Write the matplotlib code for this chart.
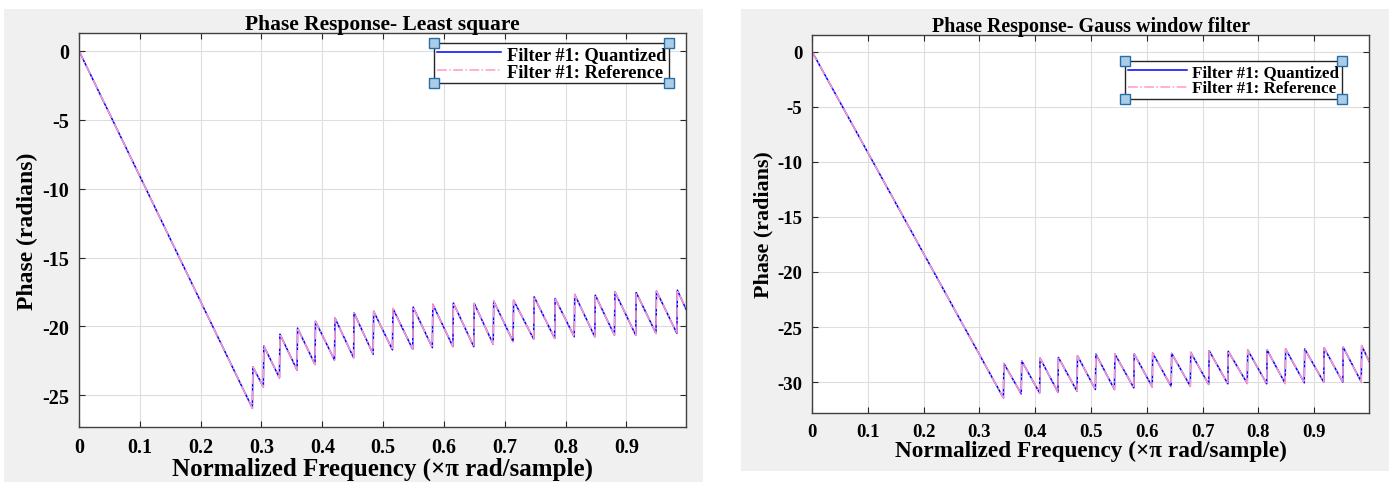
import matplotlib.pyplot as plt
import numpy as np
from matplotlib.lines import Line2D
from matplotlib.patches import Rectangle

plt.rcParams["font.family"] = ["Liberation Serif", "DejaVu Serif"]
plt.rcParams["font.weight"] = "bold"
plt.rcParams["axes.unicode_minus"] = False

# Least square filter: linear descent, then sawtooth (trough -> jump -> peak)
ls_trough_x = [0.285, 0.303, 0.3295, 0.3585, 0.388, 0.42, 0.4514, 0.4836, 0.5153, 0.5486, 0.5809, 0.6147,
               0.649, 0.681, 0.7137, 0.7475, 0.782, 0.8142, 0.848, 0.8803, 0.9153, 0.9486, 0.983]
ls_trough_y = [-25.93, -24.39, -23.73, -23.17, -22.76, -22.44, -22.27, -22.02, -21.7, -21.66, -21.54, -21.46,
               -21.47, -21.3, -21.1, -20.92, -20.87, -20.75, -20.75, -20.63, -20.63, -20.5, -20.5]
ls_peak_y = [-22.93, -21.41, -20.56, -20.12, -19.63, -19.39, -19.02, -18.9, -18.7, -18.6, -18.4, -18.3,
             -18.33, -18.16, -18.1, -17.85, -17.97, -17.68, -17.73, -17.49, -17.54, -17.44, -17.37]
ls_end = (0.998, -18.75)

# Gauss window filter
gw_trough_x = [0.343, 0.3749, 0.4078, 0.4407, 0.4749, 0.5078, 0.5419, 0.5766, 0.6096, 0.6436,
               0.6778, 0.7108, 0.745, 0.7799, 0.8147, 0.8478, 0.882, 0.9168, 0.951, 0.9841]
gw_trough_y = [-31.44, -31.07, -30.98, -30.92, -30.83, -30.67, -30.67, -30.52, -30.43, -30.4,
               -30.37, -30.21, -30.15, -30.12, -30.15, -30.12, -30.06, -30.0, -30.0, -29.97]
gw_peak_y = [-28.31, -28.07, -27.82, -27.76, -27.61, -27.45, -27.45, -27.45, -27.36, -27.39,
             -27.3, -27.15, -27.2, -27.09, -27.09, -26.99, -26.99, -26.9, -26.84, -26.69]
gw_end = (0.998, -28.1)

x_ticks = [0, 0.1, 0.2, 0.3, 0.4, 0.5, 0.6, 0.7, 0.8, 0.9]
x_tick_labels = ["0", "0.1", "0.2", "0.3", "0.4", "0.5", "0.6", "0.7", "0.8", "0.9"]

BLUE = "#0000ff"
PINK = "#ff99c8"
PANEL = "#f0f0f0"


def build_curve(trough_x, trough_y, peak_y, end):
    xs, ys = [0.0], [0.0]
    for tx, ty, py in zip(trough_x, trough_y, peak_y):
        xs += [tx, tx + 0.0008]
        ys += [ty, py]
    xs.append(end[0])
    ys.append(end[1])
    return np.array(xs), np.array(ys)


fig = plt.figure(figsize=(13.89, 4.85), dpi=100)
fig.patches.append(Rectangle((4 / 1389, 0.0041), 699 / 1389, 0.9753, transform=fig.transFigure,
                             facecolor=PANEL, edgecolor="none", zorder=-10))
fig.patches.append(Rectangle((741 / 1389, 0.0268), 648 / 1389, 0.9526, transform=fig.transFigure,
                             facecolor=PANEL, edgecolor="none", zorder=-10))

ax1 = fig.add_axes([0.0569, 0.1175, 0.437, 0.8124])
ax2 = fig.add_axes([0.5846, 0.1464, 0.401, 0.7794])

# (axes, curve, title, ylim, yticks, legend anchor, font scale)
panels = [
    (ax1, build_curve(ls_trough_x, ls_trough_y, ls_peak_y, ls_end), "Phase Response- Least square",
     (-27.3, 1.3), [0, -5, -10, -15, -20, -25], (0.972, 0.975), 1.0),
    (ax2, build_curve(gw_trough_x, gw_trough_y, gw_peak_y, gw_end), "Phase Response- Gauss window filter",
     (-32.8, 1.5), [0, -5, -10, -15, -20, -25, -30], (0.9515, 0.931), 0.93),
]

legends = []
for ax, (xs, ys), title, ylim, yticks, anchor, k in panels:
    ax.plot(xs, ys, color=BLUE, lw=1.1, label="Filter #1: Quantized")
    ax.plot(xs, ys, color=PINK, lw=1.1, ls="-.", label="Filter #1: Reference")
    ax.set_xlim(0, 0.998)
    ax.set_ylim(*ylim)
    ax.set_xticks(x_ticks)
    ax.set_xticklabels(x_tick_labels)
    ax.set_yticks(yticks)
    ax.grid(True, color="#dedede", lw=0.8)
    ax.set_axisbelow(True)
    ax.tick_params(direction="in", top=True, right=True, length=4, width=0.8,
                   labelsize=14.5 * k, color="#262626", pad=7)
    for s in ax.spines.values():
        s.set_color("#404040")
        s.set_linewidth(1.0)
    ax.set_title(title, fontsize=15.5 * k, fontweight="bold", pad=3)
    ax.set_xlabel("Normalized Frequency (\u00d7\u03c0 rad/sample)", fontsize=18 * k, fontweight="bold", labelpad=0)
    ax.set_ylabel("Phase (radians)", fontsize=17 * k, fontweight="bold", labelpad=3)
    leg = ax.legend(loc="upper right", bbox_to_anchor=anchor, borderaxespad=0,
                    prop={"weight": "bold", "size": 13.2 * k}, fancybox=False, framealpha=1,
                    edgecolor="#262626", handlelength=3.5, borderpad=0.15, labelspacing=0.05,
                    handletextpad=0.3)
    leg.get_frame().set_linewidth(1.0)
    legends.append(leg)

# edit-mode corner handles around each legend
fig.canvas.draw()
inv = fig.transFigure.inverted()
for leg in legends:
    bb = leg.get_frame().get_window_extent()
    (x0, y0), (x1, y1) = inv.transform([[bb.x0, bb.y0], [bb.x1, bb.y1]])
    fig.add_artist(Line2D([x0, x1, x0, x1], [y0, y0, y1, y1], ls="none", marker="s", markersize=6.5,
                          markerfacecolor="#a9cde8", markeredgecolor="#2a6ea6", markeredgewidth=1.0,
                          transform=fig.transFigure))

fig.savefig("out.png", dpi=100, facecolor="white")
